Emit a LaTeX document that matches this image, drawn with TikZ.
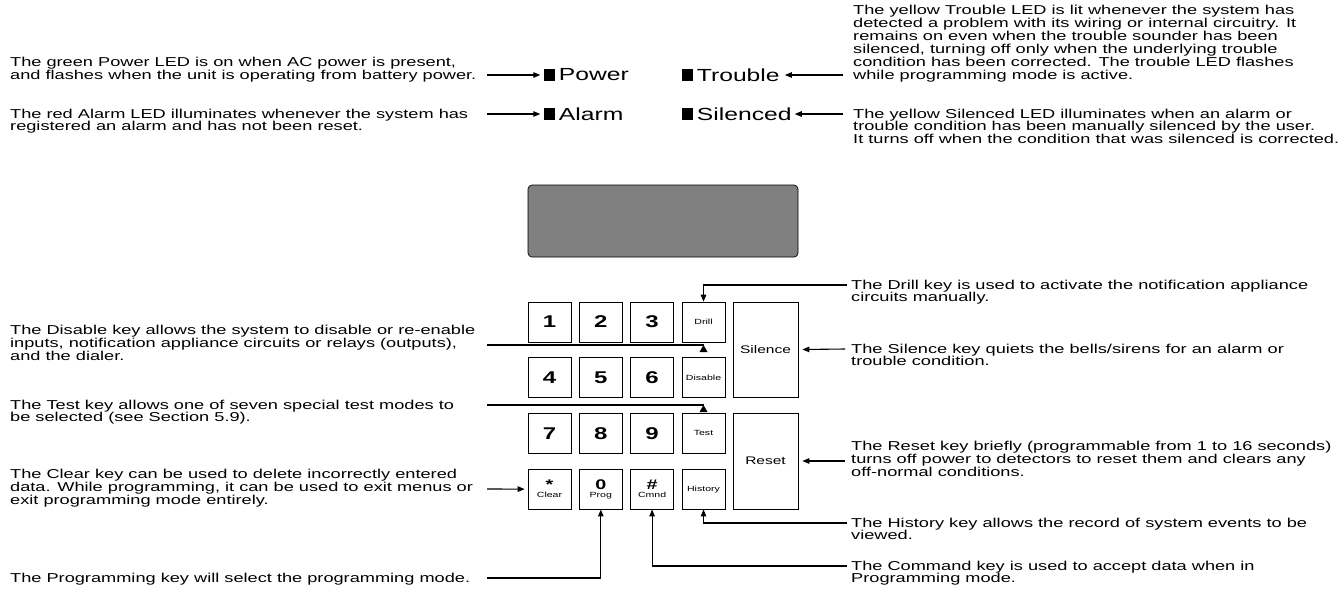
\documentclass[tikz,border=0pt]{standalone}
\usepackage{fontspec}
\setmainfont{Liberation Sans}[FakeStretch=1.41]
\usetikzlibrary{arrows.meta,positioning,calc}
\definecolor{lcdgray}{HTML}{808080}
\newcommand\notefont{\fontsize{12.9}{11.9}\selectfont}
\newcommand\ledfont{\fontsize{17.5}{19}\selectfont}
\newcommand\digitfont{\fontsize{17}{18}\selectfont\bfseries}
\newcommand\symfont{\fontsize{14}{13}\selectfont\bfseries}
\newcommand\keyfont{\fontsize{11}{12}\selectfont}
\newcommand\tinyfont{\fontsize{7.5}{8}\selectfont}
\newcommand\txtlines[2][t]{\begin{tabular}[#1]{@{}l@{}}#2\end{tabular}}
\begin{document}
\begin{tikzpicture}[x=1pt,y=-1pt,
    note/.style={font=\notefont,inner sep=0pt},
    led/.style={fill=black,inner sep=0pt,minimum width=11pt,minimum height=12pt},
    ledlbl/.style={font=\ledfont,inner sep=0pt,right=4pt of #1},
    key/.style={draw,line width=0.7pt,inner sep=0pt,minimum width=43pt,minimum height=40pt},
    numkey/.style={key,font=\digitfont},
    fnkey/.style={key,font=\tinyfont},
    bigkey/.style={key,minimum width=65pt,minimum height=96pt,font=\keyfont},
    wire/.style={line width=1.1pt},
    pointer/.style={wire,-{Triangle[length=7pt,width=5.5pt]}}]
\useasboundingbox (0,0) rectangle (1338,603);
\coordinate (lsplit) at (487,0);
\coordinate (rsplit) at (845,0);

% LEDs
\node[led] (pwrled) at (549,75) {};
\node[led] (almled) at (549,114) {};
\node[led] (trbled) at (687,75) {};
\node[led] (silled) at (687,114) {};
\node[ledlbl=pwrled] (pwrlbl) {Power};
\node[ledlbl=almled] (almlbl) {Alarm};
\node[ledlbl=trbled] (trblbl) {Trouble};
\node[ledlbl=silled] (sillbl) {Silenced};

% display
\node[draw,fill=lcdgray,rounded corners=4pt,line width=0.7pt,minimum width=270pt,minimum height=72pt] (lcd) at (663,221) {};

% keypad
\foreach \lbl/\c/\r in {1/0/0,2/1/0,3/2/0,4/0/1,5/1/1,6/2/1,7/0/2,8/1/2,9/2/2}
  \node[numkey] (k\lbl) at ({549.5+51.3*\c},{322+55.7*\r}) {\lbl};
\node[key,align=center,font=\tinyfont] (kclear) at (549.5,489.1) {{\symfont *}\\Clear};
\node[key,align=center,font=\tinyfont] (kprog) at (600.8,489.1) {{\symfont 0}\\Prog};
\node[key,align=center,font=\tinyfont] (kcmnd) at (652.1,489.1) {{\symfont \#}\\Cmnd};
\node[fnkey] (kdrill) at (703.5,322) {Drill};
\node[fnkey] (kdisable) at (703.5,377.7) {Disable};
\node[fnkey] (ktest) at (703.5,433.4) {Test};
\node[fnkey] (khist) at (703.5,489.1) {History};
\node[bigkey,minimum height=95pt] (ksilence) at (765.5,349.5) {Silence};
\node[bigkey] (kreset) at (765.5,461) {Reset};

% notes, left side
\node[note,anchor=base west] (pwrtxt) at (10,79) {\txtlines[b]{The green Power LED is on when AC power is present,\\and flashes when the unit is operating from battery power.}};
\node[note,anchor=base west] (almtxt) at (10,118) {\txtlines{The red Alarm LED illuminates whenever the system has\\registered an alarm and has not been reset.}};
\node[note,anchor=west] (distxt) at (10,345) {\txtlines[c]{The Disable key allows the system to disable or re-enable\\inputs, notification appliance circuits or relays (outputs),\\and the dialer.}};
\node[note,anchor=base west] (tsttxt) at (10,409) {\txtlines{The Test key allows one of seven special test modes to\\be selected (see Section 5.9).}};
\node[note,anchor=west] (clrtxt) at (10,489) {\txtlines[c]{The Clear key can be used to delete incorrectly entered\\data. While programming, it can be used to exit menus or\\exit programming mode entirely.}};
\node[note,anchor=base west] (prgtxt) at (10,582) {The Programming key will select the programming mode.};

% notes, right side
\node[note,anchor=base west] (trbtxt) at (853,79) {\txtlines[b]{The yellow Trouble LED is lit whenever the system has\\detected a problem with its wiring or internal circuitry. It\\remains on even when the trouble sounder has been\\silenced, turning off only when the underlying trouble\\condition has been corrected. The trouble LED flashes\\while programming mode is active.}};
\node[note,anchor=base west] (siltxt) at (853,118) {\txtlines{The yellow Silenced LED illuminates when an alarm or\\trouble condition has been manually silenced by the user.\\It turns off when the condition that was silenced is corrected.}};
\node[note,anchor=base west] (drltxt) at (851,289) {\txtlines{The Drill key is used to activate the notification appliance\\circuits manually.}};
\node[note,anchor=base west] (slctxt) at (851,353) {\txtlines{The Silence key quiets the bells/sirens for an alarm or\\trouble condition.}};
\node[note,anchor=west] (rsttxt) at (851,461) {\txtlines[c]{The Reset key briefly (programmable from 1 to 16 seconds)\\turns off power to detectors to reset them and clears any\\off-normal conditions.}};
\node[note,anchor=base west] (histxt) at (851,527) {\txtlines{The History key allows the record of system events to be\\viewed.}};
\node[note,anchor=base west] (cmdtxt) at (851,570) {\txtlines{The Command key is used to accept data when in\\Programming mode.}};

% connectors
\draw[pointer] ($(pwrtxt.base east -| lsplit)+(0,-4)$) -- ($(pwrled.west)+(-3,0)$);
\draw[pointer] ($(almtxt.base east -| lsplit)+(0,-4)$) -- ($(almled.west)+(-3,0)$);
\draw[pointer] ($(trbtxt.base west -| rsplit)+(-2,-4)$) -- ($(trblbl.east)+(5,0)$);
\draw[pointer] ($(siltxt.base west -| rsplit)+(-2,-4)$) -- ($(sillbl.east)+(3,0)$);
\draw[pointer] ($(drltxt.base west -| rsplit)+(2,-4)$) -| (kdrill.north);
\draw[pointer] ($(slctxt.base west -| rsplit)+(0,-4)$) -- ($(ksilence.east)+(4,0)$);
\draw[pointer] (rsttxt.west -| rsplit) -- ($(kreset.east)+(4,0)$);
\draw[pointer] ($(histxt.base west -| rsplit)+(2,-4)$) -| (khist.south);
\draw[pointer] ($(cmdtxt.base west -| rsplit)+(2,-4)$) -| (kcmnd.south);
\draw[pointer] ($(prgtxt.base east -| lsplit)+(0,-4)$) -| (kprog.south);
\draw[pointer] (clrtxt.east -| lsplit) -- ($(kclear.west)+(-3,0)$);
\draw[wire] (distxt.east -| lsplit) -- (distxt.east -| kdisable.north) coordinate (disend);
\fill (disend) -- ++(4,7) -- ++(-8,0) -- cycle;
\draw[wire] ($(tsttxt.base east -| lsplit)+(0,-4)$) coordinate (tststart) -- (tststart -| ktest.north) coordinate (tstend);
\fill (tstend) -- ++(4,7) -- ++(-8,0) -- cycle;
\end{tikzpicture}
\end{document}
